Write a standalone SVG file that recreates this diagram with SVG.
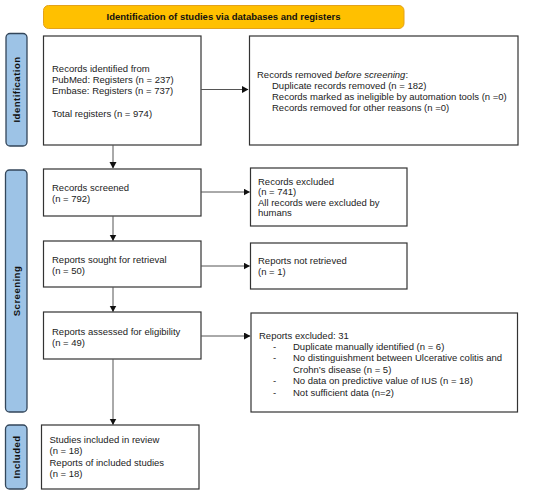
<svg xmlns="http://www.w3.org/2000/svg" width="550" height="496" viewBox="0 0 550 496">
<defs>
<style>
text{font-family:"Liberation Sans",Arial,sans-serif;font-size:9.5px;fill:#222}
.box{fill:#fff;stroke:#333;stroke-width:1.2}
.side{fill:#9DC3E6;stroke:#33465a;stroke-width:1.3}
.sidet{font-weight:bold;font-size:9.5px;letter-spacing:0.5px;fill:#111}
.ban{fill:#FFC000;stroke:#E3A21A;stroke-width:1}
.bant{font-weight:bold;font-size:9.5px;fill:#111}
.con{stroke:#555;stroke-width:1;fill:none}
</style>
<marker id="ah" markerWidth="8" markerHeight="8" refX="6" refY="3.5" orient="auto" markerUnits="userSpaceOnUse">
<path d="M0,0 L6.5,3.5 L0,7 Z" fill="#111"/>
</marker>
</defs>
<rect width="550" height="496" fill="#fff"/>

<g id="banner">
<rect class="ban" x="43.5" y="5.5" width="360.5" height="23" rx="5"/>
<text class="bant" x="223.5" y="20.4" text-anchor="middle">Identification of studies via databases and registers</text>
</g>

<g id="label-identification">
<rect class="side" x="6" y="33.5" width="21" height="112.5" rx="4"/>
<text class="sidet" transform="translate(20,89.5) rotate(-90)" text-anchor="middle">Identification</text>
</g>
<g id="label-screening">
<rect class="side" x="5.5" y="170" width="21.5" height="242" rx="4"/>
<text class="sidet" transform="translate(19.8,291) rotate(-90)" text-anchor="middle">Screening</text>
</g>
<g id="label-included">
<rect class="side" x="5.5" y="425" width="21.5" height="64" rx="4"/>
<text class="sidet" transform="translate(19.8,457) rotate(-90)" text-anchor="middle">Included</text>
</g>

<g id="records-identified">
<rect class="box" x="43.5" y="36" width="157.5" height="109"/>
<text x="52" y="72">Records identified from</text>
<text x="52" y="83">PubMed: Registers (n = 237)</text>
<text x="52" y="93.5">Embase: Registers (n = 737)</text>
<text x="52" y="117">Total registers (n = 974)</text>
</g>

<g id="records-removed">
<rect class="box" x="249.5" y="36" width="268.5" height="109"/>
<text x="257" y="77.5">Records removed <tspan font-style="italic">before screening</tspan>:</text>
<text x="272" y="89">Duplicate records removed  (n = 182)</text>
<text x="272" y="100">Records marked as ineligible by automation tools (n =0)</text>
<text x="272" y="111">Records removed for other reasons (n =0)</text>
</g>

<g id="records-screened">
<rect class="box" x="43.5" y="169" width="157.5" height="47"/>
<text x="52" y="190.5">Records screened</text>
<text x="52" y="202">(n = 792)</text>
</g>

<g id="records-excluded">
<rect class="box" x="250.5" y="168" width="156.5" height="58"/>
<text x="258" y="184.5">Records excluded</text>
<text x="258" y="195">(n = 741)</text>
<text x="258" y="205.5">All records were excluded by</text>
<text x="258" y="216">humans</text>
</g>

<g id="reports-sought">
<rect class="box" x="43.5" y="241" width="157.5" height="46"/>
<text x="52" y="262.5">Reports sought for retrieval</text>
<text x="52" y="274">(n = 50)</text>
</g>

<g id="reports-not-retrieved">
<rect class="box" x="250.5" y="243" width="156.5" height="46"/>
<text x="258" y="263.5">Reports not retrieved</text>
<text x="258" y="274.5">(n = 1)</text>
</g>

<g id="reports-assessed">
<rect class="box" x="43.5" y="312" width="157.5" height="47"/>
<text x="52" y="334.5">Reports assessed for eligibility</text>
<text x="52" y="346">(n = 49)</text>
</g>

<g id="reports-excluded">
<rect class="box" x="251" y="313" width="266.5" height="99"/>
<text x="259" y="338.5">Reports excluded: 31</text>
<text x="273" y="350">-</text><text x="293" y="350">Duplicate manually identified (n = 6)</text>
<text x="273" y="361.3">-</text><text x="293" y="361.3">No distinguishment between Ulcerative colitis and</text>
<text x="293" y="372.7">Crohn’s disease (n = 5)</text>
<text x="273" y="384">-</text><text x="293" y="384">No data on predictive value of IUS (n = 18)</text>
<text x="273" y="395.5">-</text><text x="293" y="395.5">Not sufficient data (n=2)</text>
</g>

<g id="studies-included">
<rect class="box" x="41.5" y="425" width="157.5" height="64"/>
<text x="49.5" y="442.5">Studies included in review</text>
<text x="49.5" y="454">(n = 18)</text>
<text x="49.5" y="465.5">Reports of included studies</text>
<text x="49.5" y="477">(n = 18)</text>
</g>

<g id="connectors">
<line class="con" x1="201" y1="89.5" x2="248" y2="89.5" marker-end="url(#ah)"/>
<line class="con" x1="113" y1="145" x2="113" y2="168" marker-end="url(#ah)"/>
<line class="con" x1="201" y1="192" x2="249.5" y2="192" marker-end="url(#ah)"/>
<line class="con" x1="113" y1="216" x2="113" y2="240.5" marker-end="url(#ah)"/>
<line class="con" x1="201" y1="266" x2="249.5" y2="266" marker-end="url(#ah)"/>
<line class="con" x1="113" y1="287" x2="113" y2="311.5" marker-end="url(#ah)"/>
<line class="con" x1="201" y1="336" x2="250" y2="336" marker-end="url(#ah)"/>
<line class="con" x1="113" y1="359" x2="113" y2="424.5" marker-end="url(#ah)"/>
</g>
</svg>
